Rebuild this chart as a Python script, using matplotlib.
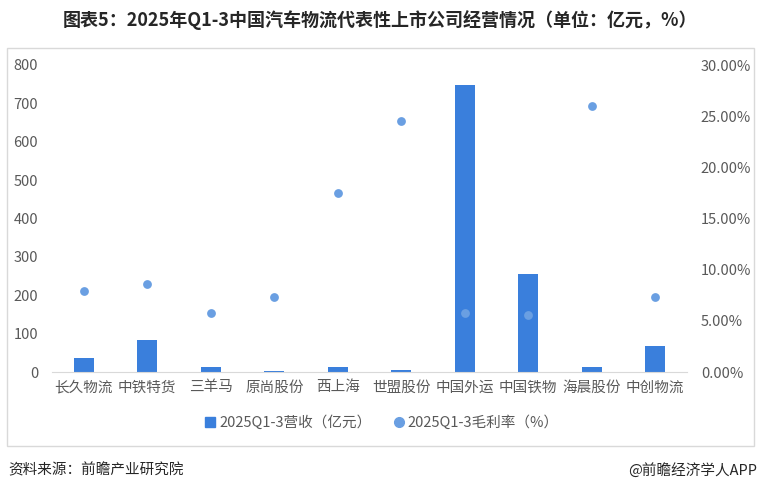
import matplotlib
matplotlib.use("Agg")
import matplotlib.pyplot as plt
from matplotlib.patches import Rectangle
from matplotlib.lines import Line2D
from matplotlib.ticker import FuncFormatter

plt.rcParams['font.family'] = ['Noto Sans CJK SC', 'DejaVu Sans']

categories = ['长久物流', '中铁特货', '三羊马', '原尚股份', '西上海', '世盟股份',
              '中国外运', '中国铁物', '海晨股份', '中创物流']
revenue = [36, 83, 12, 2, 12, 4, 748, 255, 14, 67]
margin = [7.94, 8.62, 5.76, 7.29, 17.5, 24.5, 5.73, 5.6, 26.0, 7.35]
title = '图表5：2025年Q1-3中国汽车物流代表性上市公司经营情况（单位：亿元，%）'
bar_label = '2025Q1-3营收（亿元）'
dot_label = '2025Q1-3毛利率（%）'

W, H = 760, 491
fig = plt.figure(figsize=(W/100, H/100), dpi=100)

# outer border box
fig.patches.append(Rectangle((7/W, 1-446/H), (754-7)/W, (446-48)/H,
                             transform=fig.transFigure, fill=False,
                             edgecolor='#d9d9d9', linewidth=1))

ax = fig.add_axes([52/W, 1-372/H, (687-52)/W, (372-65)/H])
x = list(range(len(categories)))
ax.bar(x, revenue, width=0.32, color='#3a7fdc', zorder=2)
ax.set_ylim(0, 800)
ax.set_xlim(-0.5, len(categories)-0.5)
ax.set_yticks(range(0, 801, 100))
ax.set_xticks(x)
ax.set_xticklabels(categories, fontsize=10.5, color='#595959')
ax.tick_params(axis='y', labelsize=10.5, colors='#595959', length=0, pad=10)
ax.tick_params(axis='x', length=0, pad=6)
for s in ['top', 'right', 'left']:
    ax.spines[s].set_visible(False)
ax.spines['bottom'].set_color('#d9d9d9')

ax2 = ax.twinx()
ax2.scatter(x, margin, s=40, color='#6a9fe2', zorder=3, linewidths=0)
ax2.set_ylim(0, 30)
ax2.set_yticks(range(0, 31, 5))
ax2.yaxis.set_major_formatter(FuncFormatter(lambda v, p: f'{v:.2f}%'))
ax2.tick_params(axis='y', labelsize=10.5, colors='#595959', length=0, pad=10)
for s in ['top', 'right', 'left', 'bottom']:
    ax2.spines[s].set_visible(False)

handles = [Line2D([], [], marker='s', linestyle='none', markersize=7, color='#3a7fdc'),
           Line2D([], [], marker='o', linestyle='none', markersize=7, color='#6a9fe2')]
fig.legend(handles, [bar_label, dot_label], loc='center', bbox_to_anchor=(381/W, 1-423/H),
           ncol=2, frameon=False, fontsize=10.5, handletextpad=0.1, columnspacing=1.4,
           labelcolor='#595959', handlelength=1)

fig.text(380/W, 1-20/H, title, ha='center', va='center', fontsize=13,
         fontweight='bold', color='#262626')
fig.text(8/W, 1-470/H, '资料来源：前瞻产业研究院', ha='left', va='center',
         fontsize=10.5, color='#262626')
fig.text(757/W, 1-470/H, '@前瞻经济学人APP', ha='right', va='center',
         fontsize=10.5, color='#262626')

fig.savefig('out.png', dpi=100)
